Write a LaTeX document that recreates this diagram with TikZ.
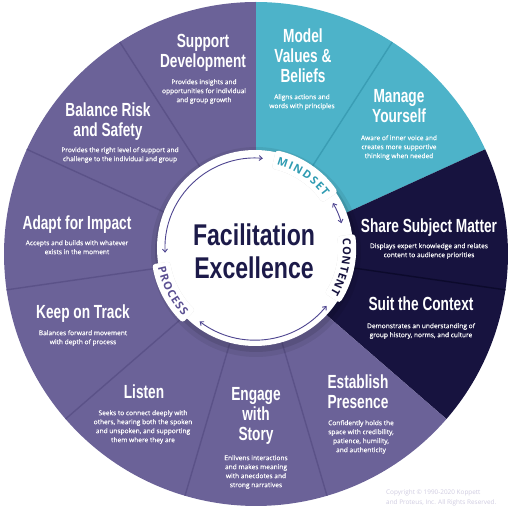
\documentclass[tikz,border=0pt]{standalone}
\usepackage{fontspec}
\setmainfont{Open Sans}
\newfontfamily\ttlfont{Liberation Sans}[FakeStretch=0.72]
\newfontfamily\bigfont{Liberation Sans}[FakeStretch=0.77]
\newfontfamily\descfont{Open Sans}[FakeBold=0.25]
\newfontfamily\tabfont{Open Sans}
\usetikzlibrary{decorations.text,arrows.meta}
\definecolor{wpurple}{HTML}{6B6298}
\definecolor{wteal}{HTML}{4DB3C9}
\definecolor{wnavy}{HTML}{17133F}
\definecolor{lpurple}{HTML}{5B5288}
\definecolor{lteal}{HTML}{3A9DB4}
\definecolor{lnavy}{HTML}{0C0A2C}
\definecolor{ctext}{HTML}{1C1A49}
\definecolor{arrcol}{HTML}{4E4590}
\definecolor{mindcol}{HTML}{2E9BB2}
\definecolor{proccol}{HTML}{5B5092}
\definecolor{copycol}{HTML}{CFCBE0}
\newcommand{\mlines}[1]{\begin{tabular}[t]{@{}c@{}}#1\end{tabular}}
\begin{document}
\begin{tikzpicture}[x=1pt,y=1pt,
  ttl/.style={anchor=base, inner sep=0, text=white, font=\ttlfont\bfseries\fontsize{19}{20}\selectfont},
  desc/.style={anchor=base, inner sep=0, text=white, font=\descfont\fontsize{6.6}{9}\selectfont},
  sepline/.style={line width=1.4pt},
  arr/.style={arrcol, line width=0.9pt, {Straight Barb[length=3pt,width=5pt]}-{Straight Barb[length=3pt,width=5pt]}},
  tabfill/.style={fill=white, rounded corners=3pt},
  tabshadow/.style={fill=black, opacity=0.15, rounded corners=3pt},
  tabtext/.style={decorate, decoration={text along path, text align={fit to path}}}
]
\useasboundingbox (-256,-257) rectangle (256,254);
\def\R{252}
% wheel segments
\foreach \i/\col in {0/wteal,1/wteal,2/wnavy,3/wnavy,4/wpurple,5/wpurple,6/wpurple,7/wpurple,8/wpurple,9/wpurple,10/wpurple}
  \fill[\col] (0,0) -- ({90-\i*360/11}:\R) arc[start angle={90-\i*360/11}, end angle={90-(\i+1)*360/11}, radius=\R] -- cycle;
% separators
\draw[sepline, lteal] ({90-1*360/11}:90) -- ({90-1*360/11}:\R);
\draw[sepline, lnavy] ({90-3*360/11}:90) -- ({90-3*360/11}:\R);
\foreach \i in {5,6,7,8,9,10}
  \draw[sepline, lpurple] ({90-\i*360/11}:90) -- ({90-\i*360/11}:\R);
% inner circle
\coordinate (c) at (-1,6);
\fill[black, opacity=0.07] (0,2) circle (105);
\fill[black, opacity=0.10] (0,3) circle (101);
\fill[white] (c) circle (98);
% tab shadows
\begin{scope}[shift={(0.8,-1.2)}]
\fill[tabshadow] ([shift={(78:81)}]c) arc[start angle=78,end angle=34,radius=81] -- ([shift={(34:100)}]c) arc[start angle=34,end angle=78,radius=100] -- cycle;
\fill[tabshadow] ([shift={(8:83)}]c) arc[start angle=8,end angle=-33,radius=83] -- ([shift={(-33:101)}]c) arc[start angle=-33,end angle=8,radius=101] -- cycle;
\fill[tabshadow] ([shift={(189:86)}]c) arc[start angle=189,end angle=226,radius=86] -- ([shift={(226:104)}]c) arc[start angle=226,end angle=189,radius=104] -- cycle;
\end{scope}
% tabs
\fill[tabfill] ([shift={(78:81)}]c) arc[start angle=78,end angle=34,radius=81] -- ([shift={(34:100)}]c) arc[start angle=34,end angle=78,radius=100] -- cycle;
\fill[tabfill] ([shift={(8:83)}]c) arc[start angle=8,end angle=-33,radius=83] -- ([shift={(-33:101)}]c) arc[start angle=-33,end angle=8,radius=101] -- cycle;
\fill[tabfill] ([shift={(189:86)}]c) arc[start angle=189,end angle=226,radius=86] -- ([shift={(226:104)}]c) arc[start angle=226,end angle=189,radius=104] -- cycle;
% tab texts
\path[tabtext, decoration={text={|\tabfont\bfseries\fontsize{11}{12}\selectfont\color{mindcol}|MINDSET}}] ([shift={(75.5:86)}]c) arc[start angle=75.5,end angle=36.5,radius=86];
\path[tabtext, decoration={text={|\tabfont\bfseries\fontsize{11}{12}\selectfont\color{wnavy}|CONTENT}}] ([shift={(6:88)}]c) arc[start angle=6,end angle=-31,radius=88];
\path[tabtext, decoration={text={|\tabfont\bfseries\fontsize{11}{12}\selectfont\color{proccol}|PROCESS}}] ([shift={(191.5:99)}]c) arc[start angle=191.5,end angle=223.5,radius=99];
% arrows
\draw[arr] ([shift={(183:90)}]c) arc[start angle=183,end angle=85,radius=90];
\draw[arr] ([shift={(30:90)}]c) arc[start angle=30,end angle=16,radius=90];
\draw[arr] ([shift={(-39:92)}]c) arc[start angle=-39,end angle=-127,radius=92];
% centre title
\node[anchor=base, inner sep=0, text=ctext, font=\bigfont\bfseries\fontsize{30}{33}\selectfont] (title) at (-2,8) {\mlines{Facilitation\\Excellence}};
% segment texts
\node[ttl] (t1) at (-53,206) {\mlines{Support\\Development}};
\node[desc] (d1) at (-52,169.8) {\mlines{Provides insights and\\opportunities for individual\\and group growth}};
\node[ttl] (t2) at (-148,137) {\mlines{Balance Risk\\and Safety}};
\node[desc] (d2) at (-136,101.8) {\mlines{Provides the right level of support and\\challenge to the individual and group}};
\node[ttl] (t3) at (-179,24) {\mlines{Adapt for Impact}};
\node[desc] (d3) at (-179,8.8) {\mlines{Accepts and builds with whatever\\exists in the moment}};
\node[ttl] (t4) at (47,211) {\mlines{Model\\Values \&\\Beliefs}};
\node[desc] (d4) at (46,154.8) {\mlines{Aligns actions and\\words with principles}};
\node[ttl] (t5) at (143,151) {\mlines{Manage\\Yourself}};
\node[desc] (d5) at (143,113.8) {\mlines{Aware of inner voice and\\creates more supportive\\thinking when needed}};
\node[ttl] (t6) at (173,21) {\mlines{Share Subject Matter}};
\node[desc] (d6) at (173,5.8) {\mlines{Displays expert knowledge and relates\\content to audience priorities}};
\node[ttl] (t7) at (165,-57) {\mlines{Suit the Context}};
\node[desc] (d7) at (165,-74.2) {\mlines{Demonstrates an understanding of\\group history, norms, and culture}};
\node[ttl] (t8) at (102,-135) {\mlines{Establish\\Presence}};
\node[desc] (d8) at (105,-171.2) {\mlines{Confidently holds the\\space with credibility,\\patience, humility,\\and authenticity}};
\node[ttl] (t9) at (0,-147) {\mlines{Engage\\with\\Story}};
\node[desc] (d9) at (0,-206.2) {\mlines{Enlivens interactions\\and makes meaning\\with anecdotes and\\strong narratives}};
\node[ttl] (t10) at (-112,-145) {\mlines{Listen}};
\node[desc] (d10) at (-113,-161.2) {\mlines{Seeks to connect deeply with\\others, hearing both the spoken\\and unspoken, and supporting\\them where they are}};
\node[ttl] (t11) at (-173,-65) {\mlines{Keep on Track}};
\node[desc] (d11) at (-173,-81.2) {\mlines{Balances forward movement\\with depth of process}};
% copyright
\node[anchor=base west, inner sep=0, text=copycol, font=\fontsize{6.4}{10}\selectfont] (copy) at (130,-241) {\begin{tabular}[t]{@{}l@{}}Copyright © 1990-2020 Koppett\\and Proteus, Inc. All Rights Reserved.\end{tabular}};
\end{tikzpicture}
\end{document}
